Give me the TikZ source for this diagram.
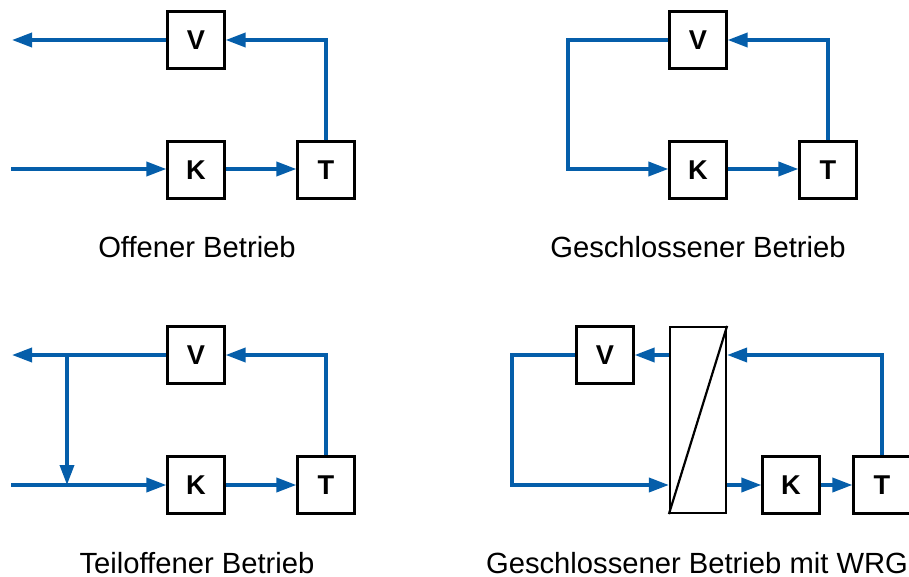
\documentclass[tikz,border=0pt]{standalone}
\usepackage{fontspec}
\setmainfont{Liberation Sans}
\usetikzlibrary{arrows.meta}

\definecolor{rohrblau}{RGB}{5,94,170}

\tikzset{
    block/.style={draw, line width=1.1pt, fill=white, minimum size=28.5pt, inner sep=0pt,
        font=\fontsize{13.6}{15}\selectfont\bfseries},
    wrg/.style={draw, line width=1.1pt, fill=white, minimum width=28pt, minimum height=93pt, inner sep=0pt},
    rohr/.style={line width=1.8pt, draw=rohrblau, -{Triangle[length=10pt,width=7pt]}},
    titel/.style={anchor=base, font=\fontsize{14.6}{17}\selectfont}
}

\begin{document}
\begin{tikzpicture}[x=0.5pt, y=-0.5pt]
    \useasboundingbox (0,0) rectangle (909,577);

    % Offener Betrieb
    \node[block] (V1) at (196,40) {V};
    \node[block] (K1) at (196,170) {K};
    \node[block] (T1) at (326,170) {T};
    \coordinate (aus1) at (12,40);
    \coordinate (ein1) at (11,169);
    \draw[rohr] (V1.west) -- (aus1);
    \draw[rohr] (ein1) -- (K1.west |- ein1);
    \draw[rohr] (K1.east |- ein1) -- (T1.west |- ein1);
    \draw[rohr] (T1.north) |- (V1.east);
    \node[titel] (tit1) at (197,257) {Offener Betrieb};

    % Geschlossener Betrieb
    \node[block] (V2) at (698,40) {V};
    \node[block] (K2) at (698,170) {K};
    \node[block] (T2) at (828,170) {T};
    \coordinate (ecke2) at (568,40);
    \draw[rohr] (V2.west) -- (ecke2) |- (K2.west |- 0,169);
    \draw[rohr] (K2.east |- 0,169) -- (T2.west |- 0,169);
    \draw[rohr] (T2.north) |- (V2.east);
    \node[titel] (tit2) at (698,257) {Geschlossener Betrieb};

    % Teiloffener Betrieb
    \node[block] (V3) at (196,355) {V};
    \node[block] (K3) at (196,485) {K};
    \node[block] (T3) at (326,485) {T};
    \coordinate (aus3) at (12,355);
    \coordinate (ein3) at (11,485);
    \coordinate (abzw3) at (67,355);
    \draw[rohr] (V3.west) -- (aus3);
    \draw[rohr] (ein3) -- (K3.west);
    \draw[rohr] (abzw3) -- (abzw3 |- ein3);
    \draw[rohr] (K3) -- (T3);
    \draw[rohr] (T3.north) |- (V3.east);
    \node[titel] (tit3) at (197,573) {Teiloffener Betrieb};

    % Geschlossener Betrieb mit WRG
    \node[wrg] (W4) at (698,420) {};
    \draw[line width=1.1pt] (W4.south west) -- (W4.north east);
    \node[block] (V4) at (605,355) {V};
    \node[block] (K4) at (791,485) {K};
    \node[block] (T4) at (882,485) {T};
    \coordinate (ecke4) at (512,355);
    \draw[rohr] (T4.north) |- (W4.east |- V4);
    \draw[rohr] (W4.west |- V4) -- (V4.east);
    \draw[rohr] (V4.west) -- (ecke4) |- (W4.west |- K4);
    \draw[rohr] (W4.east |- K4) -- (K4.west);
    \draw[rohr] (K4) -- (T4);
    \node[titel] (tit4) at (697,573) {Geschlossener Betrieb mit WRG};
\end{tikzpicture}
\end{document}
